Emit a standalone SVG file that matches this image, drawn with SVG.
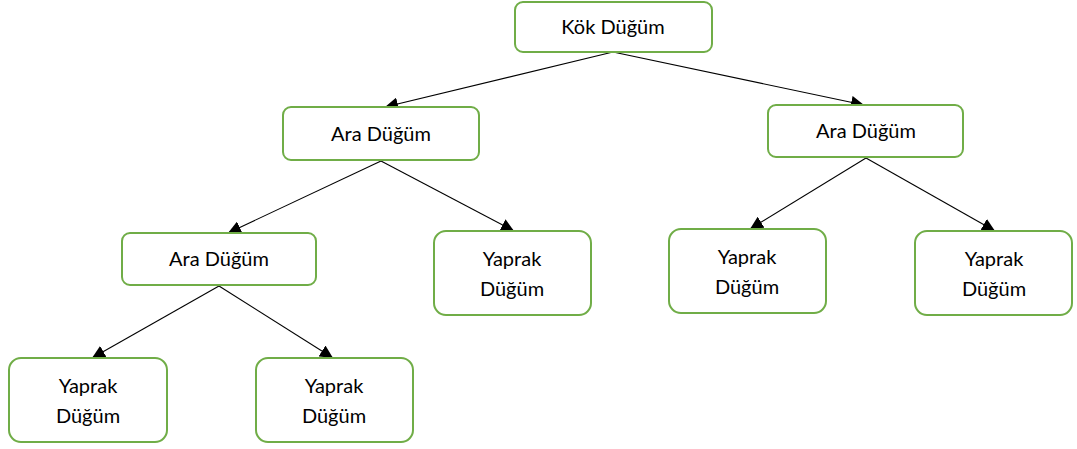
<svg xmlns="http://www.w3.org/2000/svg" width="1077" height="449" viewBox="0 0 1077 449">
<defs>
<marker id="arr" viewBox="0 0 10 10" refX="10" refY="5" markerWidth="13" markerHeight="13" markerUnits="userSpaceOnUse" orient="auto">
<path d="M0,0 L10,5 L0,10 z" fill="#000"/>
</marker>
<style>
.box{fill:#fff;stroke:#70AD47;stroke-width:2;}
.t{font-family:Lato,"Open Sans",sans-serif;font-size:20px;fill:#000;text-anchor:middle;}
.c{stroke:#000;stroke-width:1.1;fill:none;marker-end:url(#arr);}
</style>
</defs>
<rect width="1077" height="449" fill="#fff"/>
<g id="connectors">
<line class="c" x1="613" y1="52" x2="385" y2="107"/>
<line class="c" x1="613" y1="52" x2="864" y2="105"/>
<line class="c" x1="381" y1="161" x2="228" y2="233"/>
<line class="c" x1="381" y1="161" x2="514" y2="231"/>
<line class="c" x1="866" y1="158" x2="750" y2="229"/>
<line class="c" x1="866" y1="158" x2="995" y2="231"/>
<line class="c" x1="219" y1="286" x2="92" y2="358"/>
<line class="c" x1="219" y1="286" x2="333" y2="358"/>
</g>
<g id="root"><rect class="box" x="515" y="2" width="197" height="50" rx="8"/><text class="t" x="613" y="34">Kök Düğüm</text></g>
<g id="ara1"><rect class="box" x="283" y="107" width="196" height="53" rx="8"/><text class="t" x="381" y="141">Ara Düğüm</text></g>
<g id="ara2"><rect class="box" x="768" y="105" width="195" height="52" rx="8"/><text class="t" x="866" y="138">Ara Düğüm</text></g>
<g id="ara3"><rect class="box" x="122" y="233" width="194" height="52" rx="8"/><text class="t" x="219" y="266">Ara Düğüm</text></g>
<g id="leaf1"><rect class="box" x="9" y="358" width="158" height="84" rx="12"/><text class="t" x="88" y="393">Yaprak</text><text class="t" x="88" y="423">Düğüm</text></g>
<g id="leaf2"><rect class="box" x="256" y="358" width="157" height="84" rx="12"/><text class="t" x="334" y="393">Yaprak</text><text class="t" x="334" y="423">Düğüm</text></g>
<g id="leaf3"><rect class="box" x="434" y="231" width="157" height="84" rx="12"/><text class="t" x="512" y="266">Yaprak</text><text class="t" x="512" y="296">Düğüm</text></g>
<g id="leaf4"><rect class="box" x="669" y="229" width="157" height="84" rx="12"/><text class="t" x="747" y="264">Yaprak</text><text class="t" x="747" y="294">Düğüm</text></g>
<g id="leaf5"><rect class="box" x="915" y="231" width="157" height="84" rx="12"/><text class="t" x="994" y="266">Yaprak</text><text class="t" x="994" y="296">Düğüm</text></g>
</svg>
